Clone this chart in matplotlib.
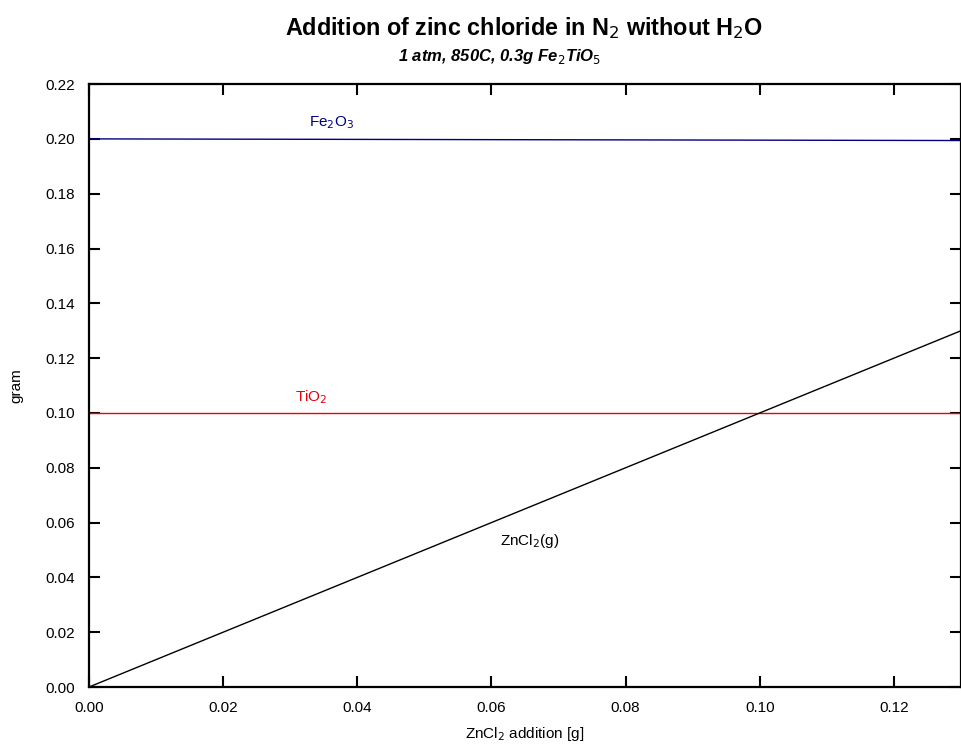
import matplotlib
matplotlib.use('Agg')
import matplotlib.pyplot as plt
import numpy as np

plt.rcParams['font.family'] = ['Liberation Sans', 'DejaVu Sans']

# ZnCl2 addition [g] (x axis)
x_add = [0.0, 0.13]
# amounts in gram
fe2o3 = [0.2000, 0.1994]
tio2 = [0.1000, 0.1000]
zncl2_g = [0.0, 0.13]

x_ticks = [0.00, 0.02, 0.04, 0.06, 0.08, 0.10, 0.12]
y_ticks = [0.00, 0.02, 0.04, 0.06, 0.08, 0.10, 0.12, 0.14, 0.16, 0.18, 0.20, 0.22]

fig = plt.figure(figsize=(9.62, 7.44), dpi=100)
ax = fig.add_axes([0.0925, 0.0766, 0.9065, 0.8104])

ax.plot(x_add, fe2o3, color='#000080', lw=1.0)
ax.plot(x_add, tio2, color='#e8000b', lw=1.0)
ax.plot(x_add, zncl2_g, color='black', lw=1.0)

# series labels
ax.text(0.0362, 0.2061, 'Fe$_2$O$_3$', color='#000080', fontsize=11, ha='center', va='center')
ax.text(0.0331, 0.1058, 'TiO$_2$', color='#e8000b', fontsize=11, ha='center', va='center')
ax.text(0.0657, 0.0533, 'ZnCl$_2$(g)', color='black', fontsize=11, ha='center', va='center')

ax.set_xlim(0, 0.13)
ax.set_ylim(0, 0.22)
ax.set_xticks(x_ticks)
ax.set_yticks(y_ticks)
ax.set_xticklabels([f'{t:.2f}' for t in x_ticks])
ax.set_yticklabels([f'{t:.2f}' for t in y_ticks])
ax.tick_params(direction='in', length=8, width=1.5, labelsize=11,
               top=True, right=True, pad=10)
for s in ax.spines.values():
    s.set_linewidth(1.6)

ax.set_xlabel('ZnCl$_2$ addition [g]', fontsize=11, labelpad=7)
ax.set_ylabel('gram', fontsize=11, labelpad=16)

fig.text(0.545, 0.962, 'Addition of zinc chloride in N$_2$ without H$_2$O',
         fontsize=16.8, fontweight='bold', ha='center', va='center')
fig.text(0.519, 0.924, '1 atm, 850C, 0.3g Fe$_2$TiO$_5$',
         fontsize=12, fontweight='bold', fontstyle='italic', ha='center', va='center')

fig.savefig('out.png', dpi=100)
